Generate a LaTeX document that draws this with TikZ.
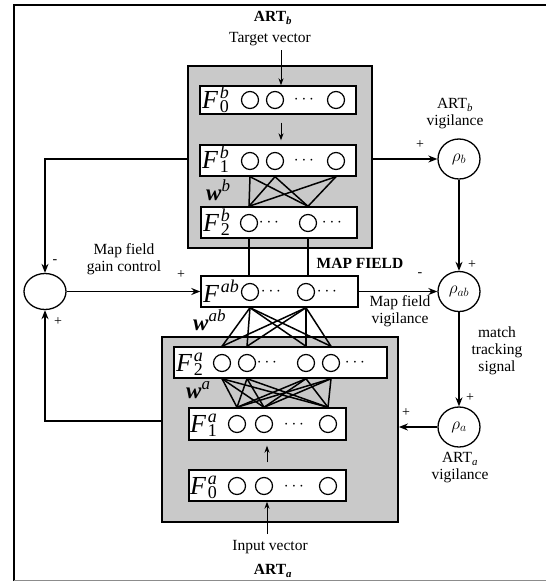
\documentclass[tikz,border=0pt]{standalone}
\usepackage{fontspec}
\setmainfont{Liberation Serif}
\usetikzlibrary{arrows.meta,shapes.geometric,calc}
\newcommand{\Fl}[2]{{\fontsize{26}{26}\selectfont\textit{F}}\kern1.5pt\rlap{\fontsize{18}{18}\selectfont\raisebox{-4.5pt}{#1}}{\fontsize{18}{18}\selectfont\raisebox{10pt}{\textit{#2}}}}
\newcommand{\Wl}[1]{{\fontsize{23}{23}\selectfont\bfseries\itshape w}{\fontsize{17}{17}\selectfont\raisebox{9pt}{\textit{#1}}}}
\begin{document}
\begin{tikzpicture}[x=1pt,y=-1pt,
  grayarea/.style={draw, line width=1.8pt, fill=black!21, inner sep=0pt, rectangle},
  layer/.style={draw, line width=1.4pt, fill=white, inner sep=0pt, rectangle},
  unit/.style={circle, draw, line width=1.2pt, minimum size=17pt, inner sep=0pt},
  vig/.style={ellipse, draw, line width=1.3pt, minimum width=42pt, minimum height=40pt, inner sep=0pt, font=\fontsize{17}{17}\selectfont},
  gain/.style={ellipse, draw, line width=1.3pt, minimum width=42pt, minimum height=36pt, inner sep=0pt},
  lbl/.style={font=\fontsize{15.5}{17}\selectfont, align=center, inner sep=0pt},
  blbl/.style={font=\fontsize{15.5}{17}\selectfont\bfseries, align=center, inner sep=0pt},
  sgn/.style={font=\fontsize{14}{14}\selectfont, inner sep=0pt},
  flab/.style={inner sep=0pt, anchor=base west},
  wlab/.style={inner sep=0pt, anchor=base west},
  dotsn/.style={inner sep=0pt, font=\fontsize{18}{18}\selectfont},
  wire/.style={line width=1.5pt},
  arr/.style={line width=1.5pt, -{Stealth[length=9pt,width=7pt]}},
  thinarr/.style={line width=0.9pt, -{Stealth[length=7pt,width=5pt]}},
]
\useasboundingbox (0,0) rectangle (546,582);
% outer frame
\draw[line width=2pt] (14,581) -- (14,5) -- (546,5);
\draw[black!45, line width=1.2pt] (14,580.5) -- (546,580.5);

% gray ART modules
\node[grayarea, minimum width=184pt, minimum height=182pt] (artb) at (280,157) {};
\node[grayarea, minimum width=236pt, minimum height=185pt] (arta) at (280,429.5) {};

% layers
\node[layer, minimum width=156pt, minimum height=28pt] (f0b) at (278,100) {};
\node[layer, minimum width=156pt, minimum height=31pt] (f1b) at (278,160.5) {};
\node[layer, minimum width=156pt, minimum height=31pt] (f2b) at (279,222.5) {};
\node[layer, minimum width=157pt, minimum height=31pt] (fab) at (279.5,291.5) {};
\node[layer, minimum width=213pt, minimum height=31pt] (f2a) at (280.5,362.5) {};
\node[layer, minimum width=157pt, minimum height=32pt] (f1a) at (267.5,424) {};
\node[layer, minimum width=157pt, minimum height=31pt] (f0a) at (267.5,485.5) {};

% units
\foreach \x [count=\i] in {250,275,336} \node[unit] (f0b\i) at (\x,100) {};
\foreach \x [count=\i] in {250,275,336} \node[unit] (f1b\i) at (\x,161) {};
\foreach \x [count=\i] in {249,308} \node[unit] (f2b\i) at (\x,223) {};
\foreach \x [count=\i] in {250,306} \node[unit] (fab\i) at (\x,292) {};
\foreach \x [count=\i] in {222,247,306,331} \node[unit] (f2a\i) at (\x,363) {};
\foreach \x [count=\i] in {237,264,328} \node[unit] (f1a\i) at (\x,424) {};
\foreach \x [count=\i] in {237,264,328} \node[unit] (f0a\i) at (\x,486) {};

% dots
\node[dotsn] (d0b) at (304,100) {$\cdots$};
\node[dotsn] (d1b) at (304,161) {$\cdots$};
\node[dotsn] (d2b1) at (269,223) {$\cdots$};
\node[dotsn] (d2b2) at (332,223) {$\cdots$};
\node[dotsn] (dab1) at (271,292) {$\cdots$};
\node[dotsn] (dab2) at (327,292) {$\cdots$};
\node[dotsn] (d2a1) at (267,363) {$\cdots$};
\node[dotsn] (d2a2) at (355,363) {$\cdots$};
\node[dotsn] (d1a) at (294,425) {$\cdots$};
\node[dotsn] (d0a) at (294,487) {$\cdots$};

% layer labels
\node[flab] (l0b) at (202,108) {\Fl{0}{b}};
\node[flab] (l1b) at (202,168) {\Fl{1}{b}};
\node[flab] (l2b) at (203,231) {\Fl{2}{b}};
\node[flab] (lab) at (203,302) {{\fontsize{26}{26}\selectfont\textit{F}}\kern1.5pt{\fontsize{18}{18}\selectfont\raisebox{10pt}{\textit{ab}}}};
\node[flab] (l2a) at (176,371) {\Fl{2}{a}};
\node[flab] (l1a) at (190,432) {\Fl{1}{a}};
\node[flab] (l0a) at (190,494) {\Fl{0}{a}};

% weight labels
\node[wlab] (wb) at (206,200) {\Wl{b}};
\node[wlab] (wab) at (193,330) {\Wl{ab}};
\node[wlab] (wa) at (186,398) {\Wl{a}};

% adaptive weights
\foreach \i in {1,2,3} \foreach \j in {1,2}
  \draw[wire] (f1b\i |- f1b.south) -- (f2b\j |- f2b.north);
\foreach \i in {1,2}
  \draw[wire] (f2b\i |- f2b.south) -- (f2b\i |- fab.north);
\foreach \i in {1,2} \foreach \j in {1,2,3,4}
  \draw[wire] (fab\i |- fab.south) -- (f2a\j |- f2a.north);
\foreach \i in {1,2,3,4} \foreach \j in {1,2,3}
  \draw[wire] (f2a\i |- f2a.south) -- (f1a\j |- f1a.north);

% vigilance nodes
\node[vig] (rhob) at (459,159) {$\rho_b$};
\node[vig] (rhoab) at (459,291.5) {$\rho_{ab}$};
\node[vig] (rhoa) at (459,427) {$\rho_a$};
\node[gain] (gc) at (45,291.5) {};

% texts
\node[blbl] (tartb) at (273,18) {ART\textsubscript{\textit{b}}};
\node[lbl] (ttv) at (270,39) {Target vector};
\node[lbl] (tivec) at (270,547) {Input vector};
\node[blbl] (tarta) at (273,571) {ART\textsubscript{\textit{a}}};
\node[lbl] (tbv) at (455,114) {ART\textsubscript{\textit{b}}\\vigilance};
\node[lbl] (tav) at (460,468) {ART\textsubscript{\textit{a}}\\vigilance};
\node[lbl] (tmgc) at (124,259.5) {Map field\\gain control};
\node[lbl] (tmfv) at (400,311.5) {Map field\\vigilance};
\node[lbl] (tmts) at (497,350.5) {match\\tracking\\signal};
\node[blbl] (tmf) at (360,263) {MAP FIELD};

% signs
\node[sgn] (s1) at (420,145) {+};
\node[sgn] (s2) at (472,265) {+};
\node[sgn] (s3) at (420,275) {-};
\node[sgn] (s4) at (470,398) {+};
\node[sgn] (s5) at (406,413) {+};
\node[sgn] (s6) at (181,275) {+};
\node[sgn] (s7) at (55,262) {-};
\node[sgn] (s8) at (58,322) {+};

% input arrows
\coordinate (tv) at (281,50);
\draw[thinarr] (tv) -- (tv |- f0b.north);
\draw[thinarr, shorten <=8pt, shorten >=4pt] (f0b.south -| tv) -- (f1b.north -| tv);
\coordinate (iv) at (267,534);
\draw[thinarr] (iv) -- (iv |- f0a.south);
\draw[thinarr, shorten <=7pt, shorten >=5pt] (f0a.north -| iv) -- (f1a.south -| iv);

% control arrows
\draw[arr] (artb.east |- rhob) -- (rhob.west);
\draw[arr] (rhob.south) -- (rhoab.north);
\draw[arr] (fab.east) -- (rhoab.west);
\draw[arr] (rhoab.south) -- (rhoa.north);
\draw[arr] (rhoa.west) -- (rhoa.west -| arta.east);
\draw[arr] (artb.west |- rhob) -- (gc |- rhob) -- (gc.north);
\coordinate (lb) at (45,421);
\draw[arr] (lb -| arta.west) -- (lb) -- (gc.south);
\draw[arr] (gc.east) -- (fab.west);
\end{tikzpicture}
\end{document}
